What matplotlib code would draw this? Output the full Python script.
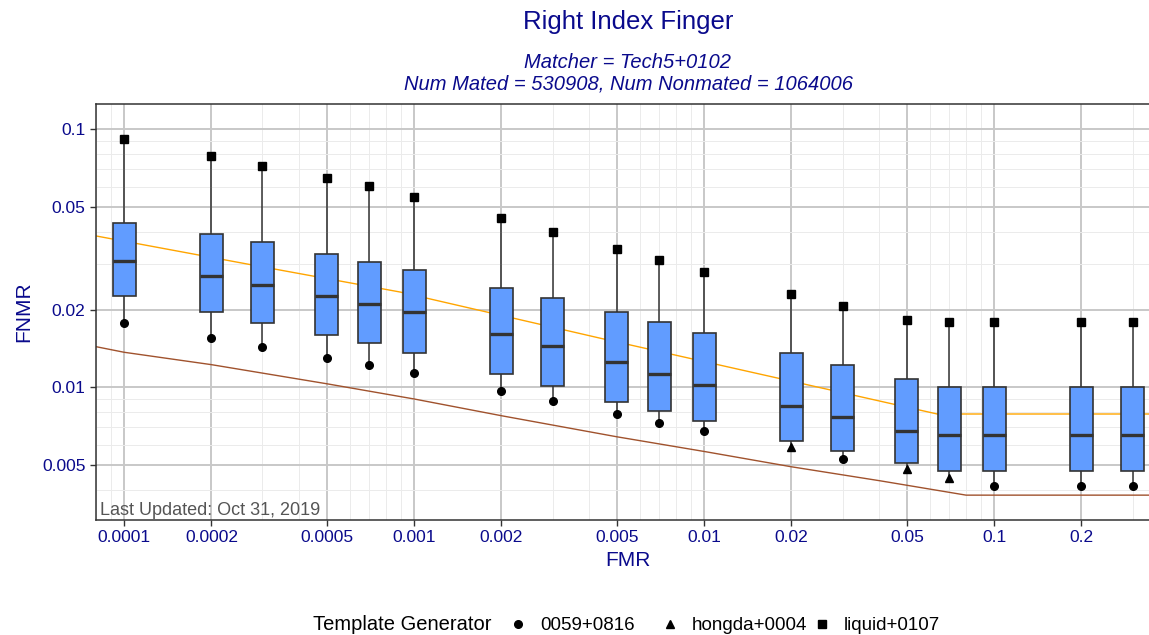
#!/usr/bin/env python3
"""Boxplots of FNMR at fixed FMR thresholds for one matcher, right index finger."""

import matplotlib
matplotlib.use('Agg')
import matplotlib.pyplot as plt
from matplotlib.patches import Rectangle
from matplotlib.ticker import LogLocator, FuncFormatter, NullFormatter

plt.rcParams['font.family'] = ['Liberation Sans', 'DejaVu Sans']

# FMR thresholds and the box statistics of FNMR across template generators
fmr_levels = [0.0001, 0.0002, 0.0003, 0.0005, 0.0007, 0.001, 0.002, 0.003, 0.005,
              0.007, 0.01, 0.02, 0.03, 0.05, 0.07, 0.1, 0.2, 0.3]
fnmr_q1 = [0.0225, 0.0195, 0.0178, 0.0160, 0.0148, 0.0136, 0.0113, 0.0101, 0.00877,
           0.00807, 0.00738, 0.00618, 0.00566, 0.00507, 0.00475, 0.00475, 0.00475, 0.00475]
fnmr_median = [0.0309, 0.0271, 0.0249, 0.0225, 0.0210, 0.0195, 0.0161, 0.0145, 0.0125,
               0.0113, 0.0102, 0.00846, 0.00769, 0.00679, 0.00652, 0.00652, 0.00652, 0.00652]
fnmr_q3 = [0.0435, 0.0393, 0.0365, 0.0328, 0.0306, 0.0285, 0.0243, 0.0221, 0.0195,
           0.0179, 0.0163, 0.0136, 0.0122, 0.0108, 0.0100, 0.0100, 0.0100, 0.0100]
# best (lowest) generator per threshold and its FNMR
fnmr_low = [0.0178, 0.0155, 0.0143, 0.0130, 0.0122, 0.0114, 0.0097, 0.00885, 0.00788,
            0.00727, 0.00679, 0.00589, 0.00527, 0.00481, 0.00444, 0.00414, 0.00414, 0.00414]
low_generator = ['0059+0816'] * 11 + ['hongda+0004', '0059+0816', 'hongda+0004',
                                      'hongda+0004', '0059+0816', '0059+0816', '0059+0816']
# worst (highest) generator per threshold
fnmr_high = [0.0917, 0.0790, 0.0721, 0.0649, 0.0603, 0.0548, 0.0454, 0.0400, 0.0345,
             0.0311, 0.0281, 0.0229, 0.0207, 0.0182, 0.0179, 0.0179, 0.0179, 0.0179]
high_generator = ['liquid+0107'] * 18

# reference curves (FMR, FNMR)
orange_fmr = [8.0e-5, 2.72e-4, 8.95e-4, 4.38e-3, 0.0183, 0.0636, 0.373]
orange_fnmr = [0.0386, 0.0299, 0.0234, 0.0155, 0.0108, 0.00788, 0.00788]
brown_fmr = [8.0e-5, 1.0e-4, 2.0e-4, 5.0e-4, 1.0e-3, 2.0e-3, 5.0e-3, 0.0101, 0.02,
             0.0405, 0.080, 0.373]
brown_fnmr = [0.01437, 0.01367, 0.01224, 0.01032, 0.00901, 0.00776, 0.00643, 0.00563,
              0.00492, 0.00434, 0.00382, 0.00382]

generators = ['0059+0816', 'hongda+0004', 'liquid+0107']
gen_markers = {'0059+0816': 'o', 'hongda+0004': '^', 'liquid+0107': 's'}

TITLE_BLUE = '#0A0A8C'
BOX_BLUE = '#619CFF'
EDGE = '#333333'

W, H = 1149, 635
fig = plt.figure(figsize=(W / 100, H / 100), dpi=100)
# the panel runs a little past the right edge of the image
ax = fig.add_axes([96 / W, 1 - 520 / H, (1160 - 96) / W, (520 - 104) / H])
ax.set_xscale('log')
ax.set_yscale('log')
ax.set_xlim(8.0e-5, 0.373)
ax.set_ylim(0.00306, 0.1253)

# grid
ax.xaxis.set_major_locator(LogLocator(base=10, subs=(1, 2, 5)))
ax.yaxis.set_major_locator(LogLocator(base=10, subs=(1, 2, 5)))
ax.xaxis.set_minor_locator(LogLocator(base=10, subs=(3, 4, 6, 7, 8, 9)))
ax.yaxis.set_minor_locator(LogLocator(base=10, subs=(3, 4, 6, 7, 8, 9)))
fmt = FuncFormatter(lambda v, p: '{:g}'.format(v))
ax.xaxis.set_major_formatter(fmt)
ax.yaxis.set_major_formatter(fmt)
ax.xaxis.set_minor_formatter(NullFormatter())
ax.yaxis.set_minor_formatter(NullFormatter())
ax.grid(which='major', color='#C8C8C8', linewidth=1.4, zorder=0)
ax.grid(which='minor', color='#EBEBEB', linewidth=0.7, zorder=0)
ax.set_axisbelow(True)

# reference curves behind the boxes
ax.plot(orange_fmr, orange_fnmr, color='#FFA500', linewidth=1.0, zorder=1)
ax.plot(brown_fmr, brown_fnmr, color='#A0522D', linewidth=1.0, zorder=1)

# boxes, drawn in log space so they look symmetric
half = 10 ** 0.0397
for i, pos in enumerate(fmr_levels):
    left, right = pos / half, pos * half
    ax.plot([pos, pos], [fnmr_q3[i], fnmr_high[i]], color=EDGE, lw=1.1, zorder=2)
    ax.plot([pos, pos], [fnmr_low[i], fnmr_q1[i]], color=EDGE, lw=1.1, zorder=2)
    ax.add_patch(Rectangle((left, fnmr_q1[i]), right - left, fnmr_q3[i] - fnmr_q1[i],
                           facecolor=BOX_BLUE, edgecolor=EDGE, linewidth=1.2, zorder=3))
    ax.plot([left, right], [fnmr_median[i]] * 2, color=EDGE, lw=2.4,
            solid_capstyle='butt', zorder=4)

for gen in generators:
    xs = [p for p, g in zip(fmr_levels, low_generator) if g == gen]
    ys = [v for v, g in zip(fnmr_low, low_generator) if g == gen]
    xs += [p for p, g in zip(fmr_levels, high_generator) if g == gen]
    ys += [v for v, g in zip(fnmr_high, high_generator) if g == gen]
    ax.plot(xs, ys, linestyle='none', marker=gen_markers[gen], color='black',
            markersize=5.5, zorder=5)

for side in ['left', 'bottom', 'top', 'right']:
    ax.spines[side].set_color(EDGE)
    ax.spines[side].set_linewidth(1.1)

ax.tick_params(which='major', length=4.5, width=1.0, color=EDGE,
               labelsize=12.5, labelcolor=TITLE_BLUE, pad=3)
ax.tick_params(which='minor', length=0)

ax.set_xlabel('FMR', fontsize=15, color=TITLE_BLUE, labelpad=4)
ax.set_ylabel('FNMR', fontsize=15, color=TITLE_BLUE, labelpad=6)

ax.text(4 / (1160 - 96), 0.002, 'Last Updated: Oct 31, 2019', transform=ax.transAxes,
        fontsize=13, color='#555555', ha='left', va='bottom')

# titles, centred over the panel
cx = (96 + 1160) / 2 / W
fig.text(cx, 1 - 22 / H, 'Right Index Finger', ha='center', va='center',
         fontsize=18.5, color=TITLE_BLUE)
fig.text(cx, 1 - 62 / H, 'Matcher = Tech5+0102', ha='center', va='center',
         fontsize=14.5, style='italic', color=TITLE_BLUE)
fig.text(cx, 1 - 84 / H, 'Num Mated = 530908, Num Nonmated = 1064006', ha='center',
         va='center', fontsize=14.5, style='italic', color=TITLE_BLUE)

# legend along the bottom: title, then marker + label for each generator
legend_y = 1 - 624 / H
legend_base = 1 - 630 / H
fig.text(313 / W, legend_base, 'Template Generator', ha='left', va='baseline',
         fontsize=14.5, color='black')
for k, gen in enumerate(generators):
    mx = (518 + 152 * k) / W
    fig.add_artist(plt.Line2D([mx], [legend_y], transform=fig.transFigure,
                              linestyle='none', marker=gen_markers[gen],
                              color='black', markersize=6 if gen_markers[gen] == '^' else 5.5))
    fig.text(mx + 22 / W, legend_base, gen, ha='left', va='baseline', fontsize=13.5,
             color='black')

fig.savefig('out.png', dpi=100)
